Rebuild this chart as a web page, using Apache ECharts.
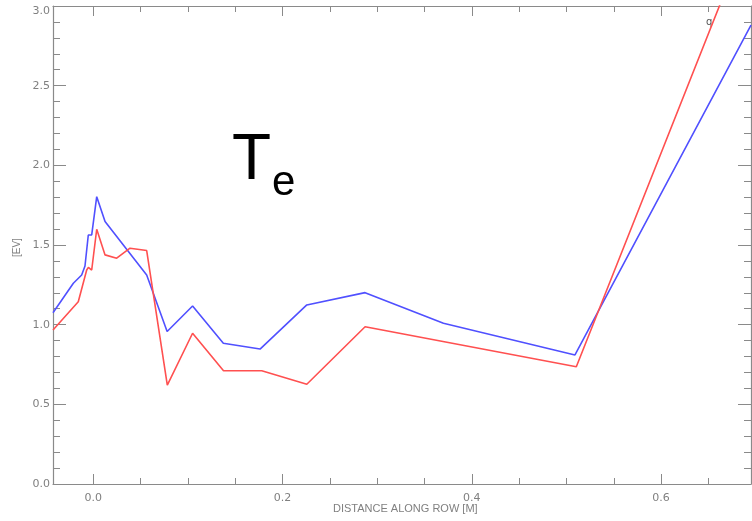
<!DOCTYPE html>
<html>
<head>
<meta charset="utf-8">
<script src="https://cdn.jsdelivr.net/npm/echarts@6/dist/echarts.min.js"></script>
<style>
  html, body { margin: 0; padding: 0; background: #fff; }
  #chart { width: 752px; height: 521px; }
</style>
</head>
<body>
<div id="chart"></div>
<script>
// Electron temperature profiles along the row
const blueX = [-0.0426, -0.0211, -0.0123, -0.0088, -0.0053, -0.0017, 0.0036, 0.0124, 0.0564, 0.078, 0.1049, 0.1374, 0.1762, 0.2256, 0.2872, 0.370, 0.509, 0.695];
const blueY = [1.075, 1.26, 1.312, 1.368, 1.563, 1.563, 1.803, 1.647, 1.312, 0.957, 1.117, 0.883, 0.847, 1.124, 1.201, 1.009, 0.81, 2.88];

const redX = [-0.0426, -0.0159, -0.007, -0.0052, -0.0017, 0.0036, 0.0124, 0.0247, 0.0388, 0.0564, 0.0782, 0.1049, 0.1376, 0.178, 0.2256, 0.2872, 0.5104, 0.695];
const redY = [0.967, 1.144, 1.343, 1.36, 1.343, 1.599, 1.438, 1.417, 1.48, 1.465, 0.621, 0.946, 0.711, 0.711, 0.626, 0.987, 0.736, 3.50];

const xMajorTicks = [0.0, 0.2, 0.4, 0.6];
const xMinorTicks = [0.05, 0.1, 0.15, 0.25, 0.3, 0.35, 0.45, 0.5, 0.55, 0.65];
const xRange = [-0.0426, 0.695];
const yRange = [0, 3];

const xTitle = 'DISTANCE ALONG ROW [M]';
const yTitle = '[EV]';

const axisGrey = '#8a8a8a';
const labelGrey = '#808080';
const labelFont = 'DejaVu Sans';

function pairs(xs, ys) { return xs.map((x, i) => [x, ys[i]]); }

function xAxisDef(pos, ticks, len, withLine, withLabels) {
  return {
    type: 'value', position: pos, min: xRange[0], max: xRange[1],
    axisLine: { show: withLine, onZero: false, lineStyle: { color: axisGrey, width: 1.2 } },
    axisTick: { show: true, inside: true, length: len, customValues: ticks, lineStyle: { color: axisGrey, width: 1 } },
    axisLabel: withLabels ? {
      show: true, customValues: ticks, margin: 9, color: labelGrey,
      fontFamily: labelFont, fontSize: 11, formatter: v => v.toFixed(1)
    } : { show: false },
    splitLine: { show: false }
  };
}

function yAxisDef(pos, withLabels) {
  return {
    type: 'value', position: pos, min: yRange[0], max: yRange[1], interval: 0.5,
    axisLine: { show: true, onZero: false, lineStyle: { color: axisGrey, width: 1.2 } },
    axisTick: { show: true, inside: true, length: 13, lineStyle: { color: axisGrey, width: 1 } },
    minorTick: { show: true, splitNumber: 5, length: 7, lineStyle: { color: axisGrey, width: 1 } },
    axisLabel: withLabels ? {
      show: true, inside: false, margin: 3, color: labelGrey,
      fontFamily: labelFont, fontSize: 11, formatter: v => v.toFixed(1),
      verticalAlignMaxLabel: 'top'
    } : { show: false },
    splitLine: { show: false },
    minorSplitLine: { show: false }
  };
}

const chart = echarts.init(document.getElementById('chart'), null, { renderer: 'canvas' });

chart.setOption({
  animation: false,
  backgroundColor: '#ffffff',
  grid: { left: 53, top: 6, width: 698, height: 478, containLabel: false },
  xAxis: [
    xAxisDef('bottom', xMajorTicks, 10, true, true),
    xAxisDef('bottom', xMinorTicks, 6, false, false),
    xAxisDef('top', xMajorTicks, 10, true, false),
    xAxisDef('top', xMinorTicks, 6, false, false)
  ],
  yAxis: [
    yAxisDef('left', true),
    yAxisDef('right', false)
  ],
  series: [
    {
      type: 'line', xAxisIndex: 0, yAxisIndex: 0,
      data: pairs(blueX, blueY), showSymbol: false, clip: true,
      lineStyle: { color: '#5050ff', width: 1.6 }
    },
    {
      type: 'line', xAxisIndex: 0, yAxisIndex: 0,
      data: pairs(redX, redY), showSymbol: false, clip: true,
      lineStyle: { color: '#ff5050', width: 1.6 }
    }
  ],
  graphic: [
    {
      type: 'text', x: 333, y: 503,
      style: { text: xTitle, fill: labelGrey, font: '11px "Liberation Sans"', align: 'left', verticalAlign: 'top' }
    },
    {
      type: 'text', x: 17, y: 257, rotation: Math.PI / 2,
      style: { text: yTitle, fill: labelGrey, font: '10px "Liberation Sans"', align: 'left', verticalAlign: 'middle' }
    },
    {
      type: 'text', x: 232, y: 129,
      style: { text: 'T', fill: '#000', font: '64px "Liberation Sans"', align: 'left', verticalAlign: 'top' }
    },
    {
      type: 'text', x: 272, y: 162,
      style: { text: 'e', fill: '#000', font: '42px "Liberation Sans"', align: 'left', verticalAlign: 'top' }
    },
    {
      type: 'text', x: 706, y: 22,
      style: { text: 'q', fill: '#555', font: '10px "DejaVu Sans"', align: 'left', verticalAlign: 'middle' }
    }
  ]
});
</script>
</body>
</html>
